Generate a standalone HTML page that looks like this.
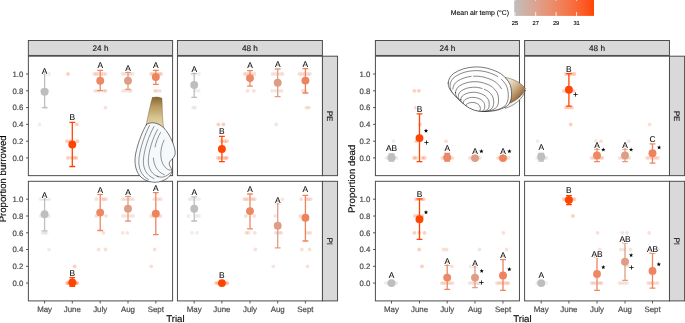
<!DOCTYPE html>
<html><head><meta charset="utf-8"><title>Figure</title>
<style>html,body{margin:0;padding:0;background:#fff;width:685px;height:323px;overflow:hidden;font-family:"Liberation Sans",sans-serif}</style>
</head><body>
<svg width="685" height="323" viewBox="0 0 685 323" style="display:block;position:absolute;left:0;top:0;will-change:transform;opacity:0.999" font-family="'Liberation Sans', sans-serif" text-rendering="geometricPrecision">
<defs>
<linearGradient id="lg" x1="0" x2="1" y1="0" y2="0"><stop offset="0%" stop-color="#bebebe"/><stop offset="5%" stop-color="#c5b9b5"/><stop offset="10%" stop-color="#cbb4ac"/><stop offset="15%" stop-color="#d0afa4"/><stop offset="20%" stop-color="#d5aa9b"/><stop offset="25%" stop-color="#daa592"/><stop offset="30%" stop-color="#dea08a"/><stop offset="35%" stop-color="#e29a81"/><stop offset="40%" stop-color="#e59579"/><stop offset="45%" stop-color="#e99070"/><stop offset="50%" stop-color="#ec8a67"/><stop offset="55%" stop-color="#ef845f"/><stop offset="60%" stop-color="#f17f56"/><stop offset="65%" stop-color="#f3794e"/><stop offset="70%" stop-color="#f67245"/><stop offset="75%" stop-color="#f86c3c"/><stop offset="80%" stop-color="#f96533"/><stop offset="85%" stop-color="#fb5e2a"/><stop offset="90%" stop-color="#fc561f"/><stop offset="95%" stop-color="#fe4e12"/><stop offset="100%" stop-color="#ff4500"/></linearGradient>
<linearGradient id="siph" x1="0" x2="0" y1="0" y2="1"><stop offset="0" stop-color="#86642f"/><stop offset="0.3" stop-color="#b89c62"/><stop offset="0.65" stop-color="#d9c592"/><stop offset="1" stop-color="#e8d9ae"/></linearGradient>
<linearGradient id="foot" x1="0.1" y1="0.1" x2="0.75" y2="0.95"><stop offset="0" stop-color="#f3eadb"/><stop offset="0.4" stop-color="#d2b894"/><stop offset="0.75" stop-color="#a67a4c"/><stop offset="1" stop-color="#6a4420"/></linearGradient>
</defs>
<rect width="685" height="323" fill="#fff"/>
<rect x="28.36" y="40.5" width="144.24" height="14.95" fill="#d9d9d9" stroke="#4a4a4a" stroke-width="0.98"/>
<text x="100.5" y="51.1" font-size="8.2" text-anchor="middle" fill="#1a1a1a" stroke="#1a1a1a" stroke-width="0.15">24 h</text>
<rect x="177.45" y="40.5" width="144.95" height="14.95" fill="#d9d9d9" stroke="#4a4a4a" stroke-width="0.98"/>
<text x="249.9" y="51.1" font-size="8.2" text-anchor="middle" fill="#1a1a1a" stroke="#1a1a1a" stroke-width="0.15">48 h</text>
<rect x="322.40" y="56.20" width="15.15" height="119.45" fill="#d9d9d9" stroke="#4a4a4a" stroke-width="0.98"/>
<text transform="translate(327.0 116.1) rotate(90)" font-size="8.0" text-anchor="middle" fill="#1a1a1a" stroke="#1a1a1a" stroke-width="0.15">PE</text>
<rect x="322.40" y="181.30" width="15.15" height="119.60" fill="#d9d9d9" stroke="#4a4a4a" stroke-width="0.98"/>
<text transform="translate(327.0 241.3) rotate(90)" font-size="8.0" text-anchor="middle" fill="#1a1a1a" stroke="#1a1a1a" stroke-width="0.15">PI</text>
<rect x="28.4" y="56.2" width="144.2" height="119.5" fill="#fff" stroke="none"/>
<circle cx="49.1" cy="74.0" r="1.9" fill="#bebebe" fill-opacity="0.26"/>
<circle cx="46.6" cy="74.0" r="1.9" fill="#bebebe" fill-opacity="0.26"/>
<circle cx="47.6" cy="90.8" r="1.9" fill="#bebebe" fill-opacity="0.26"/>
<circle cx="41.6" cy="90.8" r="1.9" fill="#bebebe" fill-opacity="0.26"/>
<circle cx="45.6" cy="107.6" r="1.9" fill="#bebebe" fill-opacity="0.26"/>
<circle cx="39.6" cy="124.4" r="1.9" fill="#bebebe" fill-opacity="0.26"/>
<circle cx="68.0" cy="74.0" r="1.9" fill="#ff4500" fill-opacity="0.26"/>
<circle cx="76.8" cy="124.4" r="1.9" fill="#ff4500" fill-opacity="0.26"/>
<circle cx="67.0" cy="141.2" r="1.9" fill="#ff4500" fill-opacity="0.26"/>
<circle cx="77.5" cy="141.2" r="1.9" fill="#ff4500" fill-opacity="0.26"/>
<circle cx="70.3" cy="141.2" r="1.9" fill="#ff4500" fill-opacity="0.26"/>
<circle cx="68.0" cy="157.9" r="1.9" fill="#ff4500" fill-opacity="0.26"/>
<circle cx="71.8" cy="157.9" r="1.9" fill="#ff4500" fill-opacity="0.26"/>
<circle cx="76.4" cy="157.9" r="1.9" fill="#ff4500" fill-opacity="0.26"/>
<circle cx="74.3" cy="157.9" r="1.9" fill="#ff4500" fill-opacity="0.26"/>
<circle cx="94.2" cy="74.0" r="1.9" fill="#ed8864" fill-opacity="0.26"/>
<circle cx="96.2" cy="74.0" r="1.9" fill="#ed8864" fill-opacity="0.26"/>
<circle cx="98.2" cy="74.0" r="1.9" fill="#ed8864" fill-opacity="0.26"/>
<circle cx="103.2" cy="74.0" r="1.9" fill="#ed8864" fill-opacity="0.26"/>
<circle cx="105.7" cy="74.0" r="1.9" fill="#ed8864" fill-opacity="0.26"/>
<circle cx="101.2" cy="74.0" r="1.9" fill="#ed8864" fill-opacity="0.26"/>
<circle cx="95.2" cy="90.8" r="1.9" fill="#ed8864" fill-opacity="0.26"/>
<circle cx="98.2" cy="90.8" r="1.9" fill="#ed8864" fill-opacity="0.26"/>
<circle cx="104.2" cy="90.8" r="1.9" fill="#ed8864" fill-opacity="0.26"/>
<circle cx="105.7" cy="90.8" r="1.9" fill="#ed8864" fill-opacity="0.26"/>
<circle cx="105.5" cy="107.6" r="1.9" fill="#ed8864" fill-opacity="0.26"/>
<circle cx="122.5" cy="74.0" r="1.9" fill="#e09d85" fill-opacity="0.26"/>
<circle cx="125.0" cy="74.0" r="1.9" fill="#e09d85" fill-opacity="0.26"/>
<circle cx="130.0" cy="74.0" r="1.9" fill="#e09d85" fill-opacity="0.26"/>
<circle cx="132.5" cy="74.0" r="1.9" fill="#e09d85" fill-opacity="0.26"/>
<circle cx="128.0" cy="74.0" r="1.9" fill="#e09d85" fill-opacity="0.26"/>
<circle cx="123.0" cy="90.8" r="1.9" fill="#e09d85" fill-opacity="0.26"/>
<circle cx="126.0" cy="90.8" r="1.9" fill="#e09d85" fill-opacity="0.26"/>
<circle cx="129.0" cy="90.8" r="1.9" fill="#e09d85" fill-opacity="0.26"/>
<circle cx="131.0" cy="90.8" r="1.9" fill="#e09d85" fill-opacity="0.26"/>
<circle cx="150.8" cy="74.0" r="1.9" fill="#ef835d" fill-opacity="0.26"/>
<circle cx="152.8" cy="74.0" r="1.9" fill="#ef835d" fill-opacity="0.26"/>
<circle cx="154.8" cy="74.0" r="1.9" fill="#ef835d" fill-opacity="0.26"/>
<circle cx="157.8" cy="74.0" r="1.9" fill="#ef835d" fill-opacity="0.26"/>
<circle cx="159.8" cy="74.0" r="1.9" fill="#ef835d" fill-opacity="0.26"/>
<circle cx="161.3" cy="74.0" r="1.9" fill="#ef835d" fill-opacity="0.26"/>
<circle cx="154.8" cy="90.8" r="1.9" fill="#ef835d" fill-opacity="0.26"/>
<circle cx="156.8" cy="90.8" r="1.9" fill="#ef835d" fill-opacity="0.26"/>
<circle cx="159.8" cy="90.8" r="1.9" fill="#ef835d" fill-opacity="0.26"/>
<path d="M44.6 74.0V107.6M41.7 74.0h5.8M41.7 107.6h5.8" stroke="#bebebe" stroke-width="1.3" fill="none"/>
<circle cx="44.6" cy="91.8" r="3.95" fill="#bebebe"/>
<path d="M72.3 122.3V166.5M69.4 122.3h5.8M69.4 166.5h5.8" stroke="#ff4500" stroke-width="1.3" fill="none"/>
<circle cx="72.3" cy="144.5" r="3.95" fill="#ff4500"/>
<path d="M100.2 70.3V90.7M97.3 70.3h5.8M97.3 90.7h5.8" stroke="#ed8864" stroke-width="1.3" fill="none"/>
<circle cx="100.2" cy="80.8" r="3.95" fill="#ed8864"/>
<path d="M128.0 72.4V89.4M125.1 72.4h5.8M125.1 89.4h5.8" stroke="#e09d85" stroke-width="1.3" fill="none"/>
<circle cx="128.0" cy="80.8" r="3.95" fill="#e09d85"/>
<path d="M155.8 70.3V84.4M152.9 70.3h5.8M152.9 84.4h5.8" stroke="#ef835d" stroke-width="1.3" fill="none"/>
<circle cx="155.8" cy="77.0" r="3.95" fill="#ef835d"/>
<text x="44.6" y="74.0" font-size="8.4" text-anchor="middle" fill="#fff" stroke="#fff" stroke-width="2.1" stroke-linejoin="round">A</text>
<text x="44.6" y="74.0" font-size="8.4" text-anchor="middle" fill="#000" stroke="#000" stroke-width="0.07">A</text>
<text x="72.3" y="120.2" font-size="8.4" text-anchor="middle" fill="#fff" stroke="#fff" stroke-width="2.1" stroke-linejoin="round">B</text>
<text x="72.3" y="120.2" font-size="8.4" text-anchor="middle" fill="#000" stroke="#000" stroke-width="0.07">B</text>
<text x="100.2" y="68.4" font-size="8.4" text-anchor="middle" fill="#fff" stroke="#fff" stroke-width="2.1" stroke-linejoin="round">A</text>
<text x="100.2" y="68.4" font-size="8.4" text-anchor="middle" fill="#000" stroke="#000" stroke-width="0.07">A</text>
<text x="128.0" y="71.1" font-size="8.4" text-anchor="middle" fill="#fff" stroke="#fff" stroke-width="2.1" stroke-linejoin="round">A</text>
<text x="128.0" y="71.1" font-size="8.4" text-anchor="middle" fill="#000" stroke="#000" stroke-width="0.07">A</text>
<text x="155.8" y="68.4" font-size="8.4" text-anchor="middle" fill="#fff" stroke="#fff" stroke-width="2.1" stroke-linejoin="round">A</text>
<text x="155.8" y="68.4" font-size="8.4" text-anchor="middle" fill="#000" stroke="#000" stroke-width="0.07">A</text>
<rect x="28.36" y="56.20" width="144.24" height="119.45" fill="none" stroke="#4a4a4a" stroke-width="0.98"/>
<rect x="28.4" y="181.3" width="144.2" height="119.6" fill="#fff" stroke="none"/>
<circle cx="40.6" cy="199.2" r="1.9" fill="#bebebe" fill-opacity="0.26"/>
<circle cx="43.6" cy="199.2" r="1.9" fill="#bebebe" fill-opacity="0.26"/>
<circle cx="46.6" cy="199.2" r="1.9" fill="#bebebe" fill-opacity="0.26"/>
<circle cx="49.1" cy="199.2" r="1.9" fill="#bebebe" fill-opacity="0.26"/>
<circle cx="40.6" cy="216.0" r="1.9" fill="#bebebe" fill-opacity="0.26"/>
<circle cx="48.9" cy="216.0" r="1.9" fill="#bebebe" fill-opacity="0.26"/>
<circle cx="42.6" cy="232.8" r="1.9" fill="#bebebe" fill-opacity="0.26"/>
<circle cx="44.6" cy="232.8" r="1.9" fill="#bebebe" fill-opacity="0.26"/>
<circle cx="46.6" cy="232.8" r="1.9" fill="#bebebe" fill-opacity="0.26"/>
<circle cx="49.0" cy="249.5" r="1.9" fill="#bebebe" fill-opacity="0.26"/>
<circle cx="74.7" cy="266.3" r="1.9" fill="#ff4500" fill-opacity="0.26"/>
<circle cx="67.0" cy="283.1" r="1.9" fill="#ff4500" fill-opacity="0.26"/>
<circle cx="69.3" cy="283.1" r="1.9" fill="#ff4500" fill-opacity="0.26"/>
<circle cx="71.3" cy="283.1" r="1.9" fill="#ff4500" fill-opacity="0.26"/>
<circle cx="73.3" cy="283.1" r="1.9" fill="#ff4500" fill-opacity="0.26"/>
<circle cx="75.3" cy="283.1" r="1.9" fill="#ff4500" fill-opacity="0.26"/>
<circle cx="77.5" cy="283.1" r="1.9" fill="#ff4500" fill-opacity="0.26"/>
<circle cx="72.3" cy="283.1" r="1.9" fill="#ff4500" fill-opacity="0.26"/>
<circle cx="68.3" cy="283.1" r="1.9" fill="#ff4500" fill-opacity="0.26"/>
<circle cx="76.3" cy="283.1" r="1.9" fill="#ff4500" fill-opacity="0.26"/>
<circle cx="96.4" cy="199.2" r="1.9" fill="#ed8864" fill-opacity="0.26"/>
<circle cx="102.2" cy="199.2" r="1.9" fill="#ed8864" fill-opacity="0.26"/>
<circle cx="104.2" cy="199.2" r="1.9" fill="#ed8864" fill-opacity="0.26"/>
<circle cx="106.0" cy="199.2" r="1.9" fill="#ed8864" fill-opacity="0.26"/>
<circle cx="96.4" cy="216.0" r="1.9" fill="#ed8864" fill-opacity="0.26"/>
<circle cx="106.0" cy="216.0" r="1.9" fill="#ed8864" fill-opacity="0.26"/>
<circle cx="103.4" cy="232.8" r="1.9" fill="#ed8864" fill-opacity="0.26"/>
<circle cx="98.5" cy="249.5" r="1.9" fill="#ed8864" fill-opacity="0.26"/>
<circle cx="105.5" cy="249.5" r="1.9" fill="#ed8864" fill-opacity="0.26"/>
<circle cx="122.7" cy="199.2" r="1.9" fill="#e09d85" fill-opacity="0.26"/>
<circle cx="125.0" cy="199.2" r="1.9" fill="#e09d85" fill-opacity="0.26"/>
<circle cx="128.0" cy="199.2" r="1.9" fill="#e09d85" fill-opacity="0.26"/>
<circle cx="130.5" cy="199.2" r="1.9" fill="#e09d85" fill-opacity="0.26"/>
<circle cx="133.0" cy="199.2" r="1.9" fill="#e09d85" fill-opacity="0.26"/>
<circle cx="123.0" cy="216.0" r="1.9" fill="#e09d85" fill-opacity="0.26"/>
<circle cx="126.0" cy="216.0" r="1.9" fill="#e09d85" fill-opacity="0.26"/>
<circle cx="130.0" cy="216.0" r="1.9" fill="#e09d85" fill-opacity="0.26"/>
<circle cx="133.0" cy="216.0" r="1.9" fill="#e09d85" fill-opacity="0.26"/>
<circle cx="122.7" cy="232.8" r="1.9" fill="#e09d85" fill-opacity="0.26"/>
<circle cx="127.4" cy="232.8" r="1.9" fill="#e09d85" fill-opacity="0.26"/>
<circle cx="154.3" cy="199.2" r="1.9" fill="#ef835d" fill-opacity="0.26"/>
<circle cx="157.8" cy="199.2" r="1.9" fill="#ef835d" fill-opacity="0.26"/>
<circle cx="160.6" cy="199.2" r="1.9" fill="#ef835d" fill-opacity="0.26"/>
<circle cx="151.2" cy="216.0" r="1.9" fill="#ef835d" fill-opacity="0.26"/>
<circle cx="153.8" cy="216.0" r="1.9" fill="#ef835d" fill-opacity="0.26"/>
<circle cx="157.8" cy="216.0" r="1.9" fill="#ef835d" fill-opacity="0.26"/>
<circle cx="160.6" cy="216.0" r="1.9" fill="#ef835d" fill-opacity="0.26"/>
<circle cx="154.7" cy="249.5" r="1.9" fill="#ef835d" fill-opacity="0.26"/>
<circle cx="151.2" cy="266.3" r="1.9" fill="#ef835d" fill-opacity="0.26"/>
<path d="M44.6 198.5V230.9M41.7 198.5h5.8M41.7 230.9h5.8" stroke="#bebebe" stroke-width="1.3" fill="none"/>
<circle cx="44.6" cy="214.3" r="3.95" fill="#bebebe"/>
<path d="M72.3 277.6V286.4M69.4 277.6h5.8M69.4 286.4h5.8" stroke="#ff4500" stroke-width="1.3" fill="none"/>
<circle cx="72.3" cy="282.5" r="3.95" fill="#ff4500"/>
<path d="M100.2 194.3V230.5M97.3 194.3h5.8M97.3 230.5h5.8" stroke="#ed8864" stroke-width="1.3" fill="none"/>
<circle cx="100.2" cy="212.6" r="3.95" fill="#ed8864"/>
<path d="M128.0 196.4V221.0M125.1 196.4h5.8M125.1 221.0h5.8" stroke="#e09d85" stroke-width="1.3" fill="none"/>
<circle cx="128.0" cy="208.8" r="3.95" fill="#e09d85"/>
<path d="M155.8 192.6V234.7M152.9 192.6h5.8M152.9 234.7h5.8" stroke="#ef835d" stroke-width="1.3" fill="none"/>
<circle cx="155.8" cy="213.6" r="3.95" fill="#ef835d"/>
<text x="44.6" y="197.8" font-size="8.4" text-anchor="middle" fill="#fff" stroke="#fff" stroke-width="2.1" stroke-linejoin="round">A</text>
<text x="44.6" y="197.8" font-size="8.4" text-anchor="middle" fill="#000" stroke="#000" stroke-width="0.07">A</text>
<text x="72.3" y="275.5" font-size="8.4" text-anchor="middle" fill="#fff" stroke="#fff" stroke-width="2.1" stroke-linejoin="round">B</text>
<text x="72.3" y="275.5" font-size="8.4" text-anchor="middle" fill="#000" stroke="#000" stroke-width="0.07">B</text>
<text x="100.2" y="192.5" font-size="8.4" text-anchor="middle" fill="#fff" stroke="#fff" stroke-width="2.1" stroke-linejoin="round">A</text>
<text x="100.2" y="192.5" font-size="8.4" text-anchor="middle" fill="#000" stroke="#000" stroke-width="0.07">A</text>
<text x="128.0" y="195.1" font-size="8.4" text-anchor="middle" fill="#fff" stroke="#fff" stroke-width="2.1" stroke-linejoin="round">A</text>
<text x="128.0" y="195.1" font-size="8.4" text-anchor="middle" fill="#000" stroke="#000" stroke-width="0.07">A</text>
<text x="155.8" y="190.9" font-size="8.4" text-anchor="middle" fill="#fff" stroke="#fff" stroke-width="2.1" stroke-linejoin="round">A</text>
<text x="155.8" y="190.9" font-size="8.4" text-anchor="middle" fill="#000" stroke="#000" stroke-width="0.07">A</text>
<rect x="28.36" y="181.30" width="144.24" height="119.60" fill="none" stroke="#4a4a4a" stroke-width="0.98"/>
<path d="M44.6 300.9v2.6" stroke="#4a4a4a" stroke-width="0.9"/>
<text x="44.6" y="311.95" font-size="7.9" text-anchor="middle" fill="#4d4d4d" stroke="#4d4d4d" stroke-width="0.2">May</text>
<path d="M72.3 300.9v2.6" stroke="#4a4a4a" stroke-width="0.9"/>
<text x="72.3" y="311.95" font-size="7.9" text-anchor="middle" fill="#4d4d4d" stroke="#4d4d4d" stroke-width="0.2">June</text>
<path d="M100.2 300.9v2.6" stroke="#4a4a4a" stroke-width="0.9"/>
<text x="100.2" y="311.95" font-size="7.9" text-anchor="middle" fill="#4d4d4d" stroke="#4d4d4d" stroke-width="0.2">July</text>
<path d="M128.0 300.9v2.6" stroke="#4a4a4a" stroke-width="0.9"/>
<text x="128.0" y="311.95" font-size="7.9" text-anchor="middle" fill="#4d4d4d" stroke="#4d4d4d" stroke-width="0.2">Aug</text>
<path d="M155.8 300.9v2.6" stroke="#4a4a4a" stroke-width="0.9"/>
<text x="155.8" y="311.95" font-size="7.9" text-anchor="middle" fill="#4d4d4d" stroke="#4d4d4d" stroke-width="0.2">Sept</text>
<rect x="177.4" y="56.2" width="144.9" height="119.5" fill="#fff" stroke="none"/>
<circle cx="199.0" cy="74.0" r="1.9" fill="#bebebe" fill-opacity="0.26"/>
<circle cx="195.2" cy="74.0" r="1.9" fill="#bebebe" fill-opacity="0.26"/>
<circle cx="192.2" cy="74.0" r="1.9" fill="#bebebe" fill-opacity="0.26"/>
<circle cx="195.2" cy="90.8" r="1.9" fill="#bebebe" fill-opacity="0.26"/>
<circle cx="198.7" cy="90.8" r="1.9" fill="#bebebe" fill-opacity="0.26"/>
<circle cx="193.2" cy="107.6" r="1.9" fill="#bebebe" fill-opacity="0.26"/>
<circle cx="195.2" cy="107.6" r="1.9" fill="#bebebe" fill-opacity="0.26"/>
<circle cx="218.4" cy="124.4" r="1.9" fill="#ff4500" fill-opacity="0.26"/>
<circle cx="223.4" cy="124.4" r="1.9" fill="#ff4500" fill-opacity="0.26"/>
<circle cx="221.4" cy="141.2" r="1.9" fill="#ff4500" fill-opacity="0.26"/>
<circle cx="224.4" cy="141.2" r="1.9" fill="#ff4500" fill-opacity="0.26"/>
<circle cx="226.9" cy="141.2" r="1.9" fill="#ff4500" fill-opacity="0.26"/>
<circle cx="217.9" cy="157.9" r="1.9" fill="#ff4500" fill-opacity="0.26"/>
<circle cx="219.9" cy="157.9" r="1.9" fill="#ff4500" fill-opacity="0.26"/>
<circle cx="222.9" cy="157.9" r="1.9" fill="#ff4500" fill-opacity="0.26"/>
<circle cx="225.4" cy="157.9" r="1.9" fill="#ff4500" fill-opacity="0.26"/>
<circle cx="226.9" cy="157.9" r="1.9" fill="#ff4500" fill-opacity="0.26"/>
<circle cx="244.5" cy="74.0" r="1.9" fill="#ed8864" fill-opacity="0.26"/>
<circle cx="246.5" cy="74.0" r="1.9" fill="#ed8864" fill-opacity="0.26"/>
<circle cx="249.0" cy="74.0" r="1.9" fill="#ed8864" fill-opacity="0.26"/>
<circle cx="252.0" cy="74.0" r="1.9" fill="#ed8864" fill-opacity="0.26"/>
<circle cx="254.5" cy="74.0" r="1.9" fill="#ed8864" fill-opacity="0.26"/>
<circle cx="247.5" cy="90.8" r="1.9" fill="#ed8864" fill-opacity="0.26"/>
<circle cx="253.8" cy="90.8" r="1.9" fill="#ed8864" fill-opacity="0.26"/>
<circle cx="272.7" cy="74.0" r="1.9" fill="#e09d85" fill-opacity="0.26"/>
<circle cx="275.2" cy="74.0" r="1.9" fill="#e09d85" fill-opacity="0.26"/>
<circle cx="277.7" cy="74.0" r="1.9" fill="#e09d85" fill-opacity="0.26"/>
<circle cx="280.7" cy="74.0" r="1.9" fill="#e09d85" fill-opacity="0.26"/>
<circle cx="282.7" cy="74.0" r="1.9" fill="#e09d85" fill-opacity="0.26"/>
<circle cx="272.2" cy="90.8" r="1.9" fill="#e09d85" fill-opacity="0.26"/>
<circle cx="275.7" cy="90.8" r="1.9" fill="#e09d85" fill-opacity="0.26"/>
<circle cx="278.7" cy="90.8" r="1.9" fill="#e09d85" fill-opacity="0.26"/>
<circle cx="281.7" cy="90.8" r="1.9" fill="#e09d85" fill-opacity="0.26"/>
<circle cx="276.2" cy="124.4" r="1.9" fill="#e09d85" fill-opacity="0.26"/>
<circle cx="299.4" cy="74.0" r="1.9" fill="#ef835d" fill-opacity="0.26"/>
<circle cx="301.9" cy="74.0" r="1.9" fill="#ef835d" fill-opacity="0.26"/>
<circle cx="304.4" cy="74.0" r="1.9" fill="#ef835d" fill-opacity="0.26"/>
<circle cx="307.4" cy="74.0" r="1.9" fill="#ef835d" fill-opacity="0.26"/>
<circle cx="309.9" cy="74.0" r="1.9" fill="#ef835d" fill-opacity="0.26"/>
<circle cx="302.9" cy="90.8" r="1.9" fill="#ef835d" fill-opacity="0.26"/>
<circle cx="305.4" cy="90.8" r="1.9" fill="#ef835d" fill-opacity="0.26"/>
<circle cx="306.4" cy="107.6" r="1.9" fill="#ef835d" fill-opacity="0.26"/>
<circle cx="308.9" cy="107.6" r="1.9" fill="#ef835d" fill-opacity="0.26"/>
<path d="M194.2 73.3V97.3M191.3 73.3h5.8M191.3 97.3h5.8" stroke="#bebebe" stroke-width="1.3" fill="none"/>
<circle cx="194.2" cy="85.0" r="3.95" fill="#bebebe"/>
<path d="M221.9 136.4V161.7M219.0 136.4h5.8M219.0 161.7h5.8" stroke="#ff4500" stroke-width="1.3" fill="none"/>
<circle cx="221.9" cy="149.0" r="3.95" fill="#ff4500"/>
<path d="M250.0 70.7V86.1M247.1 70.7h5.8M247.1 86.1h5.8" stroke="#ed8864" stroke-width="1.3" fill="none"/>
<circle cx="250.0" cy="78.1" r="3.95" fill="#ed8864"/>
<path d="M277.7 69.0V96.6M274.8 69.0h5.8M274.8 96.6h5.8" stroke="#e09d85" stroke-width="1.3" fill="none"/>
<circle cx="277.7" cy="82.7" r="3.95" fill="#e09d85"/>
<path d="M305.4 68.6V93.0M302.5 68.6h5.8M302.5 93.0h5.8" stroke="#ef835d" stroke-width="1.3" fill="none"/>
<circle cx="305.4" cy="80.6" r="3.95" fill="#ef835d"/>
<text x="194.2" y="71.5" font-size="8.4" text-anchor="middle" fill="#fff" stroke="#fff" stroke-width="2.1" stroke-linejoin="round">A</text>
<text x="194.2" y="71.5" font-size="8.4" text-anchor="middle" fill="#000" stroke="#000" stroke-width="0.07">A</text>
<text x="221.9" y="134.3" font-size="8.4" text-anchor="middle" fill="#fff" stroke="#fff" stroke-width="2.1" stroke-linejoin="round">B</text>
<text x="221.9" y="134.3" font-size="8.4" text-anchor="middle" fill="#000" stroke="#000" stroke-width="0.07">B</text>
<text x="250.0" y="68.0" font-size="8.4" text-anchor="middle" fill="#fff" stroke="#fff" stroke-width="2.1" stroke-linejoin="round">A</text>
<text x="250.0" y="68.0" font-size="8.4" text-anchor="middle" fill="#000" stroke="#000" stroke-width="0.07">A</text>
<text x="277.7" y="66.9" font-size="8.4" text-anchor="middle" fill="#fff" stroke="#fff" stroke-width="2.1" stroke-linejoin="round">A</text>
<text x="277.7" y="66.9" font-size="8.4" text-anchor="middle" fill="#000" stroke="#000" stroke-width="0.07">A</text>
<text x="305.4" y="66.9" font-size="8.4" text-anchor="middle" fill="#fff" stroke="#fff" stroke-width="2.1" stroke-linejoin="round">A</text>
<text x="305.4" y="66.9" font-size="8.4" text-anchor="middle" fill="#000" stroke="#000" stroke-width="0.07">A</text>
<rect x="177.45" y="56.20" width="144.95" height="119.45" fill="none" stroke="#4a4a4a" stroke-width="0.98"/>
<rect x="177.4" y="181.3" width="144.9" height="119.6" fill="#fff" stroke="none"/>
<circle cx="189.6" cy="199.2" r="1.9" fill="#bebebe" fill-opacity="0.26"/>
<circle cx="192.2" cy="199.2" r="1.9" fill="#bebebe" fill-opacity="0.26"/>
<circle cx="195.2" cy="199.2" r="1.9" fill="#bebebe" fill-opacity="0.26"/>
<circle cx="199.0" cy="199.2" r="1.9" fill="#bebebe" fill-opacity="0.26"/>
<circle cx="188.5" cy="216.0" r="1.9" fill="#bebebe" fill-opacity="0.26"/>
<circle cx="199.0" cy="216.0" r="1.9" fill="#bebebe" fill-opacity="0.26"/>
<circle cx="196.2" cy="216.0" r="1.9" fill="#bebebe" fill-opacity="0.26"/>
<circle cx="192.0" cy="232.8" r="1.9" fill="#bebebe" fill-opacity="0.26"/>
<circle cx="197.0" cy="232.8" r="1.9" fill="#bebebe" fill-opacity="0.26"/>
<circle cx="215.9" cy="283.1" r="1.9" fill="#ff4500" fill-opacity="0.26"/>
<circle cx="217.9" cy="283.1" r="1.9" fill="#ff4500" fill-opacity="0.26"/>
<circle cx="219.9" cy="283.1" r="1.9" fill="#ff4500" fill-opacity="0.26"/>
<circle cx="221.9" cy="283.1" r="1.9" fill="#ff4500" fill-opacity="0.26"/>
<circle cx="223.9" cy="283.1" r="1.9" fill="#ff4500" fill-opacity="0.26"/>
<circle cx="225.9" cy="283.1" r="1.9" fill="#ff4500" fill-opacity="0.26"/>
<circle cx="227.6" cy="283.1" r="1.9" fill="#ff4500" fill-opacity="0.26"/>
<circle cx="222.9" cy="283.1" r="1.9" fill="#ff4500" fill-opacity="0.26"/>
<circle cx="220.9" cy="283.1" r="1.9" fill="#ff4500" fill-opacity="0.26"/>
<circle cx="244.3" cy="199.2" r="1.9" fill="#ed8864" fill-opacity="0.26"/>
<circle cx="246.0" cy="199.2" r="1.9" fill="#ed8864" fill-opacity="0.26"/>
<circle cx="248.0" cy="199.2" r="1.9" fill="#ed8864" fill-opacity="0.26"/>
<circle cx="251.0" cy="199.2" r="1.9" fill="#ed8864" fill-opacity="0.26"/>
<circle cx="253.0" cy="199.2" r="1.9" fill="#ed8864" fill-opacity="0.26"/>
<circle cx="254.8" cy="199.2" r="1.9" fill="#ed8864" fill-opacity="0.26"/>
<circle cx="245.8" cy="216.0" r="1.9" fill="#ed8864" fill-opacity="0.26"/>
<circle cx="254.2" cy="216.0" r="1.9" fill="#ed8864" fill-opacity="0.26"/>
<circle cx="246.4" cy="232.8" r="1.9" fill="#ed8864" fill-opacity="0.26"/>
<circle cx="248.5" cy="232.8" r="1.9" fill="#ed8864" fill-opacity="0.26"/>
<circle cx="254.8" cy="232.8" r="1.9" fill="#ed8864" fill-opacity="0.26"/>
<circle cx="255.3" cy="249.5" r="1.9" fill="#ed8864" fill-opacity="0.26"/>
<circle cx="282.3" cy="199.2" r="1.9" fill="#e09d85" fill-opacity="0.26"/>
<circle cx="275.1" cy="216.0" r="1.9" fill="#e09d85" fill-opacity="0.26"/>
<circle cx="275.7" cy="232.8" r="1.9" fill="#e09d85" fill-opacity="0.26"/>
<circle cx="277.7" cy="232.8" r="1.9" fill="#e09d85" fill-opacity="0.26"/>
<circle cx="279.7" cy="232.8" r="1.9" fill="#e09d85" fill-opacity="0.26"/>
<circle cx="281.3" cy="232.8" r="1.9" fill="#e09d85" fill-opacity="0.26"/>
<circle cx="273.3" cy="266.3" r="1.9" fill="#e09d85" fill-opacity="0.26"/>
<circle cx="301.2" cy="199.2" r="1.9" fill="#ef835d" fill-opacity="0.26"/>
<circle cx="306.4" cy="199.2" r="1.9" fill="#ef835d" fill-opacity="0.26"/>
<circle cx="308.4" cy="199.2" r="1.9" fill="#ef835d" fill-opacity="0.26"/>
<circle cx="310.7" cy="199.2" r="1.9" fill="#ef835d" fill-opacity="0.26"/>
<circle cx="300.1" cy="216.0" r="1.9" fill="#ef835d" fill-opacity="0.26"/>
<circle cx="307.5" cy="232.8" r="1.9" fill="#ef835d" fill-opacity="0.26"/>
<circle cx="310.2" cy="232.8" r="1.9" fill="#ef835d" fill-opacity="0.26"/>
<circle cx="301.8" cy="249.5" r="1.9" fill="#ef835d" fill-opacity="0.26"/>
<circle cx="309.6" cy="249.5" r="1.9" fill="#ef835d" fill-opacity="0.26"/>
<circle cx="307.5" cy="266.3" r="1.9" fill="#ef835d" fill-opacity="0.26"/>
<path d="M194.2 196.8V221.0M191.3 196.8h5.8M191.3 221.0h5.8" stroke="#bebebe" stroke-width="1.3" fill="none"/>
<circle cx="194.2" cy="208.8" r="3.95" fill="#bebebe"/>
<circle cx="221.9" cy="283.1" r="3.95" fill="#ff4500"/>
<path d="M250.0 194.0V228.8M247.1 194.0h5.8M247.1 228.8h5.8" stroke="#ed8864" stroke-width="1.3" fill="none"/>
<circle cx="250.0" cy="211.1" r="3.95" fill="#ed8864"/>
<path d="M277.7 203.7V247.8M274.8 203.7h5.8M274.8 247.8h5.8" stroke="#e09d85" stroke-width="1.3" fill="none"/>
<circle cx="277.7" cy="225.8" r="3.95" fill="#e09d85"/>
<path d="M305.4 195.3V241.0M302.5 195.3h5.8M302.5 241.0h5.8" stroke="#ef835d" stroke-width="1.3" fill="none"/>
<circle cx="305.4" cy="217.8" r="3.95" fill="#ef835d"/>
<text x="194.2" y="195.1" font-size="8.4" text-anchor="middle" fill="#fff" stroke="#fff" stroke-width="2.1" stroke-linejoin="round">A</text>
<text x="194.2" y="195.1" font-size="8.4" text-anchor="middle" fill="#000" stroke="#000" stroke-width="0.07">A</text>
<text x="221.9" y="277.6" font-size="8.4" text-anchor="middle" fill="#fff" stroke="#fff" stroke-width="2.1" stroke-linejoin="round">B</text>
<text x="221.9" y="277.6" font-size="8.4" text-anchor="middle" fill="#000" stroke="#000" stroke-width="0.07">B</text>
<text x="250.0" y="192.3" font-size="8.4" text-anchor="middle" fill="#fff" stroke="#fff" stroke-width="2.1" stroke-linejoin="round">A</text>
<text x="250.0" y="192.3" font-size="8.4" text-anchor="middle" fill="#000" stroke="#000" stroke-width="0.07">A</text>
<text x="277.7" y="202.9" font-size="8.4" text-anchor="middle" fill="#fff" stroke="#fff" stroke-width="2.1" stroke-linejoin="round">A</text>
<text x="277.7" y="202.9" font-size="8.4" text-anchor="middle" fill="#000" stroke="#000" stroke-width="0.07">A</text>
<text x="305.4" y="192.3" font-size="8.4" text-anchor="middle" fill="#fff" stroke="#fff" stroke-width="2.1" stroke-linejoin="round">A</text>
<text x="305.4" y="192.3" font-size="8.4" text-anchor="middle" fill="#000" stroke="#000" stroke-width="0.07">A</text>
<rect x="177.45" y="181.30" width="144.95" height="119.60" fill="none" stroke="#4a4a4a" stroke-width="0.98"/>
<path d="M194.2 300.9v2.6" stroke="#4a4a4a" stroke-width="0.9"/>
<text x="194.2" y="311.95" font-size="7.9" text-anchor="middle" fill="#4d4d4d" stroke="#4d4d4d" stroke-width="0.2">May</text>
<path d="M221.9 300.9v2.6" stroke="#4a4a4a" stroke-width="0.9"/>
<text x="221.9" y="311.95" font-size="7.9" text-anchor="middle" fill="#4d4d4d" stroke="#4d4d4d" stroke-width="0.2">June</text>
<path d="M250.0 300.9v2.6" stroke="#4a4a4a" stroke-width="0.9"/>
<text x="250.0" y="311.95" font-size="7.9" text-anchor="middle" fill="#4d4d4d" stroke="#4d4d4d" stroke-width="0.2">July</text>
<path d="M277.7 300.9v2.6" stroke="#4a4a4a" stroke-width="0.9"/>
<text x="277.7" y="311.95" font-size="7.9" text-anchor="middle" fill="#4d4d4d" stroke="#4d4d4d" stroke-width="0.2">Aug</text>
<path d="M305.4 300.9v2.6" stroke="#4a4a4a" stroke-width="0.9"/>
<text x="305.4" y="311.95" font-size="7.9" text-anchor="middle" fill="#4d4d4d" stroke="#4d4d4d" stroke-width="0.2">Sept</text>
<path d="M28.4 157.9h-2.4" stroke="#4a4a4a" stroke-width="0.9"/>
<text x="23.3" y="160.8" font-size="7.8" text-anchor="end" fill="#4d4d4d" stroke="#4d4d4d" stroke-width="0.2">0.0</text>
<path d="M28.4 141.2h-2.4" stroke="#4a4a4a" stroke-width="0.9"/>
<text x="23.3" y="144.0" font-size="7.8" text-anchor="end" fill="#4d4d4d" stroke="#4d4d4d" stroke-width="0.2">0.2</text>
<path d="M28.4 124.4h-2.4" stroke="#4a4a4a" stroke-width="0.9"/>
<text x="23.3" y="127.2" font-size="7.8" text-anchor="end" fill="#4d4d4d" stroke="#4d4d4d" stroke-width="0.2">0.4</text>
<path d="M28.4 107.6h-2.4" stroke="#4a4a4a" stroke-width="0.9"/>
<text x="23.3" y="110.4" font-size="7.8" text-anchor="end" fill="#4d4d4d" stroke="#4d4d4d" stroke-width="0.2">0.6</text>
<path d="M28.4 90.8h-2.4" stroke="#4a4a4a" stroke-width="0.9"/>
<text x="23.3" y="93.7" font-size="7.8" text-anchor="end" fill="#4d4d4d" stroke="#4d4d4d" stroke-width="0.2">0.8</text>
<path d="M28.4 74.0h-2.4" stroke="#4a4a4a" stroke-width="0.9"/>
<text x="23.3" y="76.9" font-size="7.8" text-anchor="end" fill="#4d4d4d" stroke="#4d4d4d" stroke-width="0.2">1.0</text>
<path d="M28.4 283.1h-2.4" stroke="#4a4a4a" stroke-width="0.9"/>
<text x="23.3" y="286.0" font-size="7.8" text-anchor="end" fill="#4d4d4d" stroke="#4d4d4d" stroke-width="0.2">0.0</text>
<path d="M28.4 266.3h-2.4" stroke="#4a4a4a" stroke-width="0.9"/>
<text x="23.3" y="269.2" font-size="7.8" text-anchor="end" fill="#4d4d4d" stroke="#4d4d4d" stroke-width="0.2">0.2</text>
<path d="M28.4 249.5h-2.4" stroke="#4a4a4a" stroke-width="0.9"/>
<text x="23.3" y="252.4" font-size="7.8" text-anchor="end" fill="#4d4d4d" stroke="#4d4d4d" stroke-width="0.2">0.4</text>
<path d="M28.4 232.8h-2.4" stroke="#4a4a4a" stroke-width="0.9"/>
<text x="23.3" y="235.6" font-size="7.8" text-anchor="end" fill="#4d4d4d" stroke="#4d4d4d" stroke-width="0.2">0.6</text>
<path d="M28.4 216.0h-2.4" stroke="#4a4a4a" stroke-width="0.9"/>
<text x="23.3" y="218.8" font-size="7.8" text-anchor="end" fill="#4d4d4d" stroke="#4d4d4d" stroke-width="0.2">0.8</text>
<path d="M28.4 199.2h-2.4" stroke="#4a4a4a" stroke-width="0.9"/>
<text x="23.3" y="202.1" font-size="7.8" text-anchor="end" fill="#4d4d4d" stroke="#4d4d4d" stroke-width="0.2">1.0</text>
<text transform="translate(6.4 178.9) rotate(-90)" font-size="9.6" text-anchor="middle" fill="#000" stroke="#000" stroke-width="0.12">Proportion burrowed</text>
<text x="175.4" y="322.3" font-size="9.7" text-anchor="middle" fill="#000" stroke="#000" stroke-width="0.12">Trial</text>
<rect x="375.40" y="40.5" width="144.05" height="14.95" fill="#d9d9d9" stroke="#4a4a4a" stroke-width="0.98"/>
<text x="447.4" y="51.1" font-size="8.2" text-anchor="middle" fill="#1a1a1a" stroke="#1a1a1a" stroke-width="0.15">24 h</text>
<rect x="524.60" y="40.5" width="144.85" height="14.95" fill="#d9d9d9" stroke="#4a4a4a" stroke-width="0.98"/>
<text x="597.0" y="51.1" font-size="8.2" text-anchor="middle" fill="#1a1a1a" stroke="#1a1a1a" stroke-width="0.15">48 h</text>
<rect x="669.45" y="56.20" width="15.15" height="119.45" fill="#d9d9d9" stroke="#4a4a4a" stroke-width="0.98"/>
<text transform="translate(674.1 116.1) rotate(90)" font-size="8.0" text-anchor="middle" fill="#1a1a1a" stroke="#1a1a1a" stroke-width="0.15">PE</text>
<rect x="669.45" y="181.30" width="15.15" height="119.60" fill="#d9d9d9" stroke="#4a4a4a" stroke-width="0.98"/>
<text transform="translate(674.1 241.3) rotate(90)" font-size="8.0" text-anchor="middle" fill="#1a1a1a" stroke="#1a1a1a" stroke-width="0.15">PI</text>
<rect x="375.4" y="56.2" width="144.1" height="119.5" fill="#fff" stroke="none"/>
<circle cx="393.5" cy="141.2" r="1.9" fill="#bebebe" fill-opacity="0.26"/>
<circle cx="386.5" cy="157.9" r="1.9" fill="#bebebe" fill-opacity="0.26"/>
<circle cx="388.5" cy="157.9" r="1.9" fill="#bebebe" fill-opacity="0.26"/>
<circle cx="390.5" cy="157.9" r="1.9" fill="#bebebe" fill-opacity="0.26"/>
<circle cx="392.5" cy="157.9" r="1.9" fill="#bebebe" fill-opacity="0.26"/>
<circle cx="394.5" cy="157.9" r="1.9" fill="#bebebe" fill-opacity="0.26"/>
<circle cx="396.5" cy="157.9" r="1.9" fill="#bebebe" fill-opacity="0.26"/>
<circle cx="391.5" cy="157.9" r="1.9" fill="#bebebe" fill-opacity="0.26"/>
<circle cx="393.5" cy="157.9" r="1.9" fill="#bebebe" fill-opacity="0.26"/>
<circle cx="414.4" cy="90.8" r="1.9" fill="#ff4500" fill-opacity="0.26"/>
<circle cx="418.8" cy="90.8" r="1.9" fill="#ff4500" fill-opacity="0.26"/>
<circle cx="416.0" cy="107.6" r="1.9" fill="#ff4500" fill-opacity="0.26"/>
<circle cx="420.0" cy="124.4" r="1.9" fill="#ff4500" fill-opacity="0.26"/>
<circle cx="416.3" cy="141.2" r="1.9" fill="#ff4500" fill-opacity="0.26"/>
<circle cx="414.0" cy="157.9" r="1.9" fill="#ff4500" fill-opacity="0.26"/>
<circle cx="416.0" cy="157.9" r="1.9" fill="#ff4500" fill-opacity="0.26"/>
<circle cx="422.5" cy="157.9" r="1.9" fill="#ff4500" fill-opacity="0.26"/>
<circle cx="424.7" cy="157.9" r="1.9" fill="#ff4500" fill-opacity="0.26"/>
<circle cx="446.0" cy="141.2" r="1.9" fill="#ed8864" fill-opacity="0.26"/>
<circle cx="442.2" cy="157.9" r="1.9" fill="#ed8864" fill-opacity="0.26"/>
<circle cx="444.2" cy="157.9" r="1.9" fill="#ed8864" fill-opacity="0.26"/>
<circle cx="446.2" cy="157.9" r="1.9" fill="#ed8864" fill-opacity="0.26"/>
<circle cx="448.2" cy="157.9" r="1.9" fill="#ed8864" fill-opacity="0.26"/>
<circle cx="450.2" cy="157.9" r="1.9" fill="#ed8864" fill-opacity="0.26"/>
<circle cx="452.7" cy="157.9" r="1.9" fill="#ed8864" fill-opacity="0.26"/>
<circle cx="447.2" cy="157.9" r="1.9" fill="#ed8864" fill-opacity="0.26"/>
<circle cx="469.5" cy="157.9" r="1.9" fill="#e09d85" fill-opacity="0.26"/>
<circle cx="472.0" cy="157.9" r="1.9" fill="#e09d85" fill-opacity="0.26"/>
<circle cx="474.0" cy="157.9" r="1.9" fill="#e09d85" fill-opacity="0.26"/>
<circle cx="476.0" cy="157.9" r="1.9" fill="#e09d85" fill-opacity="0.26"/>
<circle cx="478.0" cy="157.9" r="1.9" fill="#e09d85" fill-opacity="0.26"/>
<circle cx="480.0" cy="157.9" r="1.9" fill="#e09d85" fill-opacity="0.26"/>
<circle cx="475.0" cy="157.9" r="1.9" fill="#e09d85" fill-opacity="0.26"/>
<circle cx="498.0" cy="157.9" r="1.9" fill="#ef835d" fill-opacity="0.26"/>
<circle cx="500.0" cy="157.9" r="1.9" fill="#ef835d" fill-opacity="0.26"/>
<circle cx="502.0" cy="157.9" r="1.9" fill="#ef835d" fill-opacity="0.26"/>
<circle cx="504.0" cy="157.9" r="1.9" fill="#ef835d" fill-opacity="0.26"/>
<circle cx="506.0" cy="157.9" r="1.9" fill="#ef835d" fill-opacity="0.26"/>
<circle cx="508.5" cy="157.9" r="1.9" fill="#ef835d" fill-opacity="0.26"/>
<circle cx="503.0" cy="157.9" r="1.9" fill="#ef835d" fill-opacity="0.26"/>
<path d="M391.5 153.9V161.0M388.6 153.9h5.8M388.6 161.0h5.8" stroke="#bebebe" stroke-width="1.3" fill="none"/>
<circle cx="391.5" cy="157.5" r="3.95" fill="#bebebe"/>
<path d="M419.5 113.9V161.7M416.6 113.9h5.8M416.6 161.7h5.8" stroke="#ff4500" stroke-width="1.3" fill="none"/>
<circle cx="419.5" cy="138.1" r="3.95" fill="#ff4500"/>
<path d="M447.2 153.3V161.0M444.3 153.3h5.8M444.3 161.0h5.8" stroke="#ed8864" stroke-width="1.3" fill="none"/>
<circle cx="447.2" cy="157.5" r="3.95" fill="#ed8864"/>
<path d="M475.0 157.0V159.2M472.1 157.0h5.8M472.1 159.2h5.8" stroke="#e09d85" stroke-width="1.3" fill="none"/>
<circle cx="475.0" cy="158.1" r="3.95" fill="#e09d85"/>
<path d="M503.0 157.0V159.2M500.1 157.0h5.8M500.1 159.2h5.8" stroke="#ef835d" stroke-width="1.3" fill="none"/>
<circle cx="503.0" cy="158.1" r="3.95" fill="#ef835d"/>
<text x="391.5" y="150.5" font-size="8.4" text-anchor="middle" fill="#fff" stroke="#fff" stroke-width="2.1" stroke-linejoin="round">AB</text>
<text x="391.5" y="150.5" font-size="8.4" text-anchor="middle" fill="#000" stroke="#000" stroke-width="0.07">AB</text>
<text x="419.5" y="111.8" font-size="8.4" text-anchor="middle" fill="#fff" stroke="#fff" stroke-width="2.1" stroke-linejoin="round">B</text>
<text x="419.5" y="111.8" font-size="8.4" text-anchor="middle" fill="#000" stroke="#000" stroke-width="0.07">B</text>
<path d="M426.00 128.60L426.56 130.08L428.14 130.15L426.90 131.14L427.32 132.67L426.00 131.80L424.68 132.67L425.10 131.14L423.86 130.15L425.44 130.08Z" fill="#000"/>
<path d="M424.35 142.50h4.3M426.50 140.35v4.3" stroke="#111" stroke-width="0.8" fill="none"/>
<text x="447.2" y="150.5" font-size="8.4" text-anchor="middle" fill="#fff" stroke="#fff" stroke-width="2.1" stroke-linejoin="round">A</text>
<text x="447.2" y="150.5" font-size="8.4" text-anchor="middle" fill="#000" stroke="#000" stroke-width="0.07">A</text>
<text x="475.0" y="153.7" font-size="8.4" text-anchor="middle" fill="#fff" stroke="#fff" stroke-width="2.1" stroke-linejoin="round">A</text>
<text x="475.0" y="153.7" font-size="8.4" text-anchor="middle" fill="#000" stroke="#000" stroke-width="0.07">A</text>
<path d="M481.40 149.10L481.96 150.58L483.54 150.65L482.30 151.64L482.72 153.17L481.40 152.30L480.08 153.17L480.50 151.64L479.26 150.65L480.84 150.58Z" fill="#000"/>
<text x="503.0" y="153.7" font-size="8.4" text-anchor="middle" fill="#fff" stroke="#fff" stroke-width="2.1" stroke-linejoin="round">A</text>
<text x="503.0" y="153.7" font-size="8.4" text-anchor="middle" fill="#000" stroke="#000" stroke-width="0.07">A</text>
<path d="M509.40 149.10L509.96 150.58L511.54 150.65L510.30 151.64L510.72 153.17L509.40 152.30L508.08 153.17L508.50 151.64L507.26 150.65L508.84 150.58Z" fill="#000"/>
<rect x="375.40" y="56.20" width="144.05" height="119.45" fill="none" stroke="#4a4a4a" stroke-width="0.98"/>
<rect x="375.4" y="181.3" width="144.1" height="119.6" fill="#fff" stroke="none"/>
<circle cx="386.0" cy="283.1" r="1.9" fill="#bebebe" fill-opacity="0.26"/>
<circle cx="388.5" cy="283.1" r="1.9" fill="#bebebe" fill-opacity="0.26"/>
<circle cx="390.5" cy="283.1" r="1.9" fill="#bebebe" fill-opacity="0.26"/>
<circle cx="392.5" cy="283.1" r="1.9" fill="#bebebe" fill-opacity="0.26"/>
<circle cx="394.5" cy="283.1" r="1.9" fill="#bebebe" fill-opacity="0.26"/>
<circle cx="396.5" cy="283.1" r="1.9" fill="#bebebe" fill-opacity="0.26"/>
<circle cx="391.5" cy="283.1" r="1.9" fill="#bebebe" fill-opacity="0.26"/>
<circle cx="393.5" cy="283.1" r="1.9" fill="#bebebe" fill-opacity="0.26"/>
<circle cx="389.5" cy="283.1" r="1.9" fill="#bebebe" fill-opacity="0.26"/>
<circle cx="416.0" cy="199.2" r="1.9" fill="#ff4500" fill-opacity="0.26"/>
<circle cx="418.5" cy="199.2" r="1.9" fill="#ff4500" fill-opacity="0.26"/>
<circle cx="421.5" cy="199.2" r="1.9" fill="#ff4500" fill-opacity="0.26"/>
<circle cx="423.5" cy="199.2" r="1.9" fill="#ff4500" fill-opacity="0.26"/>
<circle cx="415.0" cy="216.0" r="1.9" fill="#ff4500" fill-opacity="0.26"/>
<circle cx="418.0" cy="216.0" r="1.9" fill="#ff4500" fill-opacity="0.26"/>
<circle cx="422.3" cy="216.0" r="1.9" fill="#ff4500" fill-opacity="0.26"/>
<circle cx="414.4" cy="232.8" r="1.9" fill="#ff4500" fill-opacity="0.26"/>
<circle cx="419.2" cy="232.8" r="1.9" fill="#ff4500" fill-opacity="0.26"/>
<circle cx="424.5" cy="232.8" r="1.9" fill="#ff4500" fill-opacity="0.26"/>
<circle cx="419.2" cy="249.5" r="1.9" fill="#ff4500" fill-opacity="0.26"/>
<circle cx="422.0" cy="266.3" r="1.9" fill="#ff4500" fill-opacity="0.26"/>
<circle cx="443.4" cy="249.5" r="1.9" fill="#ed8864" fill-opacity="0.26"/>
<circle cx="446.6" cy="249.5" r="1.9" fill="#ed8864" fill-opacity="0.26"/>
<circle cx="451.8" cy="266.3" r="1.9" fill="#ed8864" fill-opacity="0.26"/>
<circle cx="441.7" cy="283.1" r="1.9" fill="#ed8864" fill-opacity="0.26"/>
<circle cx="443.7" cy="283.1" r="1.9" fill="#ed8864" fill-opacity="0.26"/>
<circle cx="445.7" cy="283.1" r="1.9" fill="#ed8864" fill-opacity="0.26"/>
<circle cx="448.2" cy="283.1" r="1.9" fill="#ed8864" fill-opacity="0.26"/>
<circle cx="450.2" cy="283.1" r="1.9" fill="#ed8864" fill-opacity="0.26"/>
<circle cx="452.7" cy="283.1" r="1.9" fill="#ed8864" fill-opacity="0.26"/>
<circle cx="479.6" cy="249.5" r="1.9" fill="#e09d85" fill-opacity="0.26"/>
<circle cx="470.8" cy="266.3" r="1.9" fill="#e09d85" fill-opacity="0.26"/>
<circle cx="474.0" cy="266.3" r="1.9" fill="#e09d85" fill-opacity="0.26"/>
<circle cx="469.5" cy="283.1" r="1.9" fill="#e09d85" fill-opacity="0.26"/>
<circle cx="472.0" cy="283.1" r="1.9" fill="#e09d85" fill-opacity="0.26"/>
<circle cx="474.0" cy="283.1" r="1.9" fill="#e09d85" fill-opacity="0.26"/>
<circle cx="476.5" cy="283.1" r="1.9" fill="#e09d85" fill-opacity="0.26"/>
<circle cx="478.5" cy="283.1" r="1.9" fill="#e09d85" fill-opacity="0.26"/>
<circle cx="480.5" cy="283.1" r="1.9" fill="#e09d85" fill-opacity="0.26"/>
<circle cx="503.4" cy="232.8" r="1.9" fill="#ef835d" fill-opacity="0.26"/>
<circle cx="506.6" cy="249.5" r="1.9" fill="#ef835d" fill-opacity="0.26"/>
<circle cx="497.0" cy="283.1" r="1.9" fill="#ef835d" fill-opacity="0.26"/>
<circle cx="499.0" cy="283.1" r="1.9" fill="#ef835d" fill-opacity="0.26"/>
<circle cx="501.0" cy="283.1" r="1.9" fill="#ef835d" fill-opacity="0.26"/>
<circle cx="503.0" cy="283.1" r="1.9" fill="#ef835d" fill-opacity="0.26"/>
<circle cx="505.0" cy="283.1" r="1.9" fill="#ef835d" fill-opacity="0.26"/>
<circle cx="507.0" cy="283.1" r="1.9" fill="#ef835d" fill-opacity="0.26"/>
<circle cx="508.5" cy="283.1" r="1.9" fill="#ef835d" fill-opacity="0.26"/>
<circle cx="391.5" cy="283.1" r="3.95" fill="#bebebe"/>
<path d="M419.5 198.9V239.3M416.6 198.9h5.8M416.6 239.3h5.8" stroke="#ff4500" stroke-width="1.3" fill="none"/>
<circle cx="419.5" cy="219.3" r="3.95" fill="#ff4500"/>
<path d="M447.2 265.2V289.4M444.3 265.2h5.8M444.3 289.4h5.8" stroke="#ed8864" stroke-width="1.3" fill="none"/>
<circle cx="447.2" cy="277.6" r="3.95" fill="#ed8864"/>
<path d="M475.0 266.7V287.7M472.1 266.7h5.8M472.1 287.7h5.8" stroke="#e09d85" stroke-width="1.3" fill="none"/>
<circle cx="475.0" cy="277.6" r="3.95" fill="#e09d85"/>
<path d="M503.0 259.7V290.3M500.1 259.7h5.8M500.1 290.3h5.8" stroke="#ef835d" stroke-width="1.3" fill="none"/>
<circle cx="503.0" cy="275.5" r="3.95" fill="#ef835d"/>
<text x="391.5" y="278.0" font-size="8.4" text-anchor="middle" fill="#fff" stroke="#fff" stroke-width="2.1" stroke-linejoin="round">A</text>
<text x="391.5" y="278.0" font-size="8.4" text-anchor="middle" fill="#000" stroke="#000" stroke-width="0.07">A</text>
<text x="419.5" y="196.5" font-size="8.4" text-anchor="middle" fill="#fff" stroke="#fff" stroke-width="2.1" stroke-linejoin="round">B</text>
<text x="419.5" y="196.5" font-size="8.4" text-anchor="middle" fill="#000" stroke="#000" stroke-width="0.07">B</text>
<path d="M426.00 210.10L426.56 211.58L428.14 211.65L426.90 212.64L427.32 214.17L426.00 213.30L424.68 214.17L425.10 212.64L423.86 211.65L425.44 211.58Z" fill="#000"/>
<text x="447.2" y="263.9" font-size="8.4" text-anchor="middle" fill="#fff" stroke="#fff" stroke-width="2.1" stroke-linejoin="round">A</text>
<text x="447.2" y="263.9" font-size="8.4" text-anchor="middle" fill="#000" stroke="#000" stroke-width="0.07">A</text>
<text x="475.0" y="265.6" font-size="8.4" text-anchor="middle" fill="#fff" stroke="#fff" stroke-width="2.1" stroke-linejoin="round">A</text>
<text x="475.0" y="265.6" font-size="8.4" text-anchor="middle" fill="#000" stroke="#000" stroke-width="0.07">A</text>
<path d="M481.70 268.80L482.26 270.28L483.84 270.35L482.60 271.34L483.02 272.87L481.70 272.00L480.38 272.87L480.80 271.34L479.56 270.35L481.14 270.28Z" fill="#000"/>
<path d="M479.35 282.50h4.3M481.50 280.35v4.3" stroke="#111" stroke-width="0.8" fill="none"/>
<text x="503.0" y="258.0" font-size="8.4" text-anchor="middle" fill="#fff" stroke="#fff" stroke-width="2.1" stroke-linejoin="round">A</text>
<text x="503.0" y="258.0" font-size="8.4" text-anchor="middle" fill="#000" stroke="#000" stroke-width="0.07">A</text>
<path d="M509.30 267.10L509.86 268.58L511.44 268.65L510.20 269.64L510.62 271.17L509.30 270.30L507.98 271.17L508.40 269.64L507.16 268.65L508.74 268.58Z" fill="#000"/>
<rect x="375.40" y="181.30" width="144.05" height="119.60" fill="none" stroke="#4a4a4a" stroke-width="0.98"/>
<path d="M391.5 300.9v2.6" stroke="#4a4a4a" stroke-width="0.9"/>
<text x="391.5" y="311.95" font-size="7.9" text-anchor="middle" fill="#4d4d4d" stroke="#4d4d4d" stroke-width="0.2">May</text>
<path d="M419.5 300.9v2.6" stroke="#4a4a4a" stroke-width="0.9"/>
<text x="419.5" y="311.95" font-size="7.9" text-anchor="middle" fill="#4d4d4d" stroke="#4d4d4d" stroke-width="0.2">June</text>
<path d="M447.2 300.9v2.6" stroke="#4a4a4a" stroke-width="0.9"/>
<text x="447.2" y="311.95" font-size="7.9" text-anchor="middle" fill="#4d4d4d" stroke="#4d4d4d" stroke-width="0.2">July</text>
<path d="M475.0 300.9v2.6" stroke="#4a4a4a" stroke-width="0.9"/>
<text x="475.0" y="311.95" font-size="7.9" text-anchor="middle" fill="#4d4d4d" stroke="#4d4d4d" stroke-width="0.2">Aug</text>
<path d="M503.0 300.9v2.6" stroke="#4a4a4a" stroke-width="0.9"/>
<text x="503.0" y="311.95" font-size="7.9" text-anchor="middle" fill="#4d4d4d" stroke="#4d4d4d" stroke-width="0.2">Sept</text>
<rect x="524.6" y="56.2" width="144.8" height="119.5" fill="#fff" stroke="none"/>
<circle cx="537.6" cy="141.2" r="1.9" fill="#bebebe" fill-opacity="0.26"/>
<circle cx="537.2" cy="157.9" r="1.9" fill="#bebebe" fill-opacity="0.26"/>
<circle cx="539.2" cy="157.9" r="1.9" fill="#bebebe" fill-opacity="0.26"/>
<circle cx="541.2" cy="157.9" r="1.9" fill="#bebebe" fill-opacity="0.26"/>
<circle cx="543.2" cy="157.9" r="1.9" fill="#bebebe" fill-opacity="0.26"/>
<circle cx="545.2" cy="157.9" r="1.9" fill="#bebebe" fill-opacity="0.26"/>
<circle cx="546.7" cy="157.9" r="1.9" fill="#bebebe" fill-opacity="0.26"/>
<circle cx="542.2" cy="157.9" r="1.9" fill="#bebebe" fill-opacity="0.26"/>
<circle cx="565.9" cy="74.0" r="1.9" fill="#ff4500" fill-opacity="0.26"/>
<circle cx="568.9" cy="74.0" r="1.9" fill="#ff4500" fill-opacity="0.26"/>
<circle cx="571.9" cy="74.0" r="1.9" fill="#ff4500" fill-opacity="0.26"/>
<circle cx="574.4" cy="74.0" r="1.9" fill="#ff4500" fill-opacity="0.26"/>
<circle cx="563.9" cy="90.8" r="1.9" fill="#ff4500" fill-opacity="0.26"/>
<circle cx="566.9" cy="90.8" r="1.9" fill="#ff4500" fill-opacity="0.26"/>
<circle cx="573.5" cy="90.8" r="1.9" fill="#ff4500" fill-opacity="0.26"/>
<circle cx="565.9" cy="107.6" r="1.9" fill="#ff4500" fill-opacity="0.26"/>
<circle cx="568.9" cy="107.6" r="1.9" fill="#ff4500" fill-opacity="0.26"/>
<circle cx="571.9" cy="107.6" r="1.9" fill="#ff4500" fill-opacity="0.26"/>
<circle cx="570.7" cy="124.4" r="1.9" fill="#ff4500" fill-opacity="0.26"/>
<circle cx="596.0" cy="141.2" r="1.9" fill="#ed8864" fill-opacity="0.26"/>
<circle cx="601.0" cy="141.2" r="1.9" fill="#ed8864" fill-opacity="0.26"/>
<circle cx="591.5" cy="157.9" r="1.9" fill="#ed8864" fill-opacity="0.26"/>
<circle cx="594.0" cy="157.9" r="1.9" fill="#ed8864" fill-opacity="0.26"/>
<circle cx="596.0" cy="157.9" r="1.9" fill="#ed8864" fill-opacity="0.26"/>
<circle cx="599.0" cy="157.9" r="1.9" fill="#ed8864" fill-opacity="0.26"/>
<circle cx="601.0" cy="157.9" r="1.9" fill="#ed8864" fill-opacity="0.26"/>
<circle cx="602.5" cy="157.9" r="1.9" fill="#ed8864" fill-opacity="0.26"/>
<circle cx="628.6" cy="141.2" r="1.9" fill="#e09d85" fill-opacity="0.26"/>
<circle cx="619.5" cy="157.9" r="1.9" fill="#e09d85" fill-opacity="0.26"/>
<circle cx="622.0" cy="157.9" r="1.9" fill="#e09d85" fill-opacity="0.26"/>
<circle cx="624.0" cy="157.9" r="1.9" fill="#e09d85" fill-opacity="0.26"/>
<circle cx="627.0" cy="157.9" r="1.9" fill="#e09d85" fill-opacity="0.26"/>
<circle cx="629.5" cy="157.9" r="1.9" fill="#e09d85" fill-opacity="0.26"/>
<circle cx="649.6" cy="124.4" r="1.9" fill="#ef835d" fill-opacity="0.26"/>
<circle cx="647.0" cy="157.9" r="1.9" fill="#ef835d" fill-opacity="0.26"/>
<circle cx="649.0" cy="157.9" r="1.9" fill="#ef835d" fill-opacity="0.26"/>
<circle cx="651.5" cy="157.9" r="1.9" fill="#ef835d" fill-opacity="0.26"/>
<circle cx="654.0" cy="157.9" r="1.9" fill="#ef835d" fill-opacity="0.26"/>
<circle cx="656.0" cy="157.9" r="1.9" fill="#ef835d" fill-opacity="0.26"/>
<circle cx="658.0" cy="157.9" r="1.9" fill="#ef835d" fill-opacity="0.26"/>
<path d="M541.2 153.3V161.0M538.3 153.3h5.8M538.3 161.0h5.8" stroke="#bebebe" stroke-width="1.3" fill="none"/>
<circle cx="541.2" cy="156.8" r="3.95" fill="#bebebe"/>
<path d="M568.9 73.5V106.1M566.0 73.5h5.8M566.0 106.1h5.8" stroke="#ff4500" stroke-width="1.3" fill="none"/>
<circle cx="568.9" cy="89.7" r="3.95" fill="#ff4500"/>
<path d="M597.0 149.0V161.7M594.1 149.0h5.8M594.1 161.7h5.8" stroke="#ed8864" stroke-width="1.3" fill="none"/>
<circle cx="597.0" cy="155.4" r="3.95" fill="#ed8864"/>
<path d="M625.0 149.0V161.7M622.1 149.0h5.8M622.1 161.7h5.8" stroke="#e09d85" stroke-width="1.3" fill="none"/>
<circle cx="625.0" cy="155.4" r="3.95" fill="#e09d85"/>
<path d="M652.5 143.8V163.2M649.6 143.8h5.8M649.6 163.2h5.8" stroke="#ef835d" stroke-width="1.3" fill="none"/>
<circle cx="652.5" cy="153.3" r="3.95" fill="#ef835d"/>
<text x="541.2" y="150.1" font-size="8.4" text-anchor="middle" fill="#fff" stroke="#fff" stroke-width="2.1" stroke-linejoin="round">A</text>
<text x="541.2" y="150.1" font-size="8.4" text-anchor="middle" fill="#000" stroke="#000" stroke-width="0.07">A</text>
<text x="568.9" y="71.5" font-size="8.4" text-anchor="middle" fill="#fff" stroke="#fff" stroke-width="2.1" stroke-linejoin="round">B</text>
<text x="568.9" y="71.5" font-size="8.4" text-anchor="middle" fill="#000" stroke="#000" stroke-width="0.07">B</text>
<path d="M573.35 94.50h4.3M575.50 92.35v4.3" stroke="#111" stroke-width="0.8" fill="none"/>
<text x="597.0" y="148.4" font-size="8.4" text-anchor="middle" fill="#fff" stroke="#fff" stroke-width="2.1" stroke-linejoin="round">A</text>
<text x="597.0" y="148.4" font-size="8.4" text-anchor="middle" fill="#000" stroke="#000" stroke-width="0.07">A</text>
<path d="M603.30 147.40L603.86 148.88L605.44 148.95L604.20 149.94L604.62 151.47L603.30 150.60L601.98 151.47L602.40 149.94L601.16 148.95L602.74 148.88Z" fill="#000"/>
<text x="625.0" y="148.4" font-size="8.4" text-anchor="middle" fill="#fff" stroke="#fff" stroke-width="2.1" stroke-linejoin="round">A</text>
<text x="625.0" y="148.4" font-size="8.4" text-anchor="middle" fill="#000" stroke="#000" stroke-width="0.07">A</text>
<path d="M631.10 147.40L631.66 148.88L633.24 148.95L632.00 149.94L632.42 151.47L631.10 150.60L629.78 151.47L630.20 149.94L628.96 148.95L630.54 148.88Z" fill="#000"/>
<text x="652.5" y="142.1" font-size="8.4" text-anchor="middle" fill="#fff" stroke="#fff" stroke-width="2.1" stroke-linejoin="round">C</text>
<text x="652.5" y="142.1" font-size="8.4" text-anchor="middle" fill="#000" stroke="#000" stroke-width="0.07">C</text>
<path d="M659.10 145.30L659.66 146.78L661.24 146.85L660.00 147.84L660.42 149.37L659.10 148.50L657.78 149.37L658.20 147.84L656.96 146.85L658.54 146.78Z" fill="#000"/>
<rect x="524.60" y="56.20" width="144.85" height="119.45" fill="none" stroke="#4a4a4a" stroke-width="0.98"/>
<rect x="524.6" y="181.3" width="144.8" height="119.6" fill="#fff" stroke="none"/>
<circle cx="537.2" cy="283.1" r="1.9" fill="#bebebe" fill-opacity="0.26"/>
<circle cx="539.2" cy="283.1" r="1.9" fill="#bebebe" fill-opacity="0.26"/>
<circle cx="541.2" cy="283.1" r="1.9" fill="#bebebe" fill-opacity="0.26"/>
<circle cx="543.2" cy="283.1" r="1.9" fill="#bebebe" fill-opacity="0.26"/>
<circle cx="546.0" cy="283.1" r="1.9" fill="#bebebe" fill-opacity="0.26"/>
<circle cx="542.2" cy="283.1" r="1.9" fill="#bebebe" fill-opacity="0.26"/>
<circle cx="540.2" cy="283.1" r="1.9" fill="#bebebe" fill-opacity="0.26"/>
<circle cx="563.9" cy="199.2" r="1.9" fill="#ff4500" fill-opacity="0.26"/>
<circle cx="565.9" cy="199.2" r="1.9" fill="#ff4500" fill-opacity="0.26"/>
<circle cx="567.9" cy="199.2" r="1.9" fill="#ff4500" fill-opacity="0.26"/>
<circle cx="569.9" cy="199.2" r="1.9" fill="#ff4500" fill-opacity="0.26"/>
<circle cx="571.9" cy="199.2" r="1.9" fill="#ff4500" fill-opacity="0.26"/>
<circle cx="574.4" cy="199.2" r="1.9" fill="#ff4500" fill-opacity="0.26"/>
<circle cx="568.9" cy="199.2" r="1.9" fill="#ff4500" fill-opacity="0.26"/>
<circle cx="570.9" cy="199.2" r="1.9" fill="#ff4500" fill-opacity="0.26"/>
<circle cx="572.9" cy="216.0" r="1.9" fill="#ff4500" fill-opacity="0.26"/>
<circle cx="597.6" cy="232.8" r="1.9" fill="#ed8864" fill-opacity="0.26"/>
<circle cx="599.7" cy="249.5" r="1.9" fill="#ed8864" fill-opacity="0.26"/>
<circle cx="591.5" cy="283.1" r="1.9" fill="#ed8864" fill-opacity="0.26"/>
<circle cx="593.5" cy="283.1" r="1.9" fill="#ed8864" fill-opacity="0.26"/>
<circle cx="595.5" cy="283.1" r="1.9" fill="#ed8864" fill-opacity="0.26"/>
<circle cx="598.0" cy="283.1" r="1.9" fill="#ed8864" fill-opacity="0.26"/>
<circle cx="600.0" cy="283.1" r="1.9" fill="#ed8864" fill-opacity="0.26"/>
<circle cx="601.5" cy="283.1" r="1.9" fill="#ed8864" fill-opacity="0.26"/>
<circle cx="622.3" cy="232.8" r="1.9" fill="#e09d85" fill-opacity="0.26"/>
<circle cx="627.0" cy="232.8" r="1.9" fill="#e09d85" fill-opacity="0.26"/>
<circle cx="628.0" cy="266.3" r="1.9" fill="#e09d85" fill-opacity="0.26"/>
<circle cx="620.8" cy="249.5" r="1.9" fill="#e09d85" fill-opacity="0.26"/>
<circle cx="624.0" cy="249.5" r="1.9" fill="#e09d85" fill-opacity="0.26"/>
<circle cx="630.3" cy="249.5" r="1.9" fill="#e09d85" fill-opacity="0.26"/>
<circle cx="619.5" cy="283.1" r="1.9" fill="#e09d85" fill-opacity="0.26"/>
<circle cx="622.0" cy="283.1" r="1.9" fill="#e09d85" fill-opacity="0.26"/>
<circle cx="624.5" cy="283.1" r="1.9" fill="#e09d85" fill-opacity="0.26"/>
<circle cx="627.0" cy="283.1" r="1.9" fill="#e09d85" fill-opacity="0.26"/>
<circle cx="649.2" cy="232.8" r="1.9" fill="#ef835d" fill-opacity="0.26"/>
<circle cx="648.3" cy="249.5" r="1.9" fill="#ef835d" fill-opacity="0.26"/>
<circle cx="651.5" cy="249.5" r="1.9" fill="#ef835d" fill-opacity="0.26"/>
<circle cx="654.5" cy="249.5" r="1.9" fill="#ef835d" fill-opacity="0.26"/>
<circle cx="657.8" cy="249.5" r="1.9" fill="#ef835d" fill-opacity="0.26"/>
<circle cx="648.1" cy="283.1" r="1.9" fill="#ef835d" fill-opacity="0.26"/>
<circle cx="650.5" cy="283.1" r="1.9" fill="#ef835d" fill-opacity="0.26"/>
<circle cx="652.5" cy="283.1" r="1.9" fill="#ef835d" fill-opacity="0.26"/>
<circle cx="655.0" cy="283.1" r="1.9" fill="#ef835d" fill-opacity="0.26"/>
<circle cx="657.8" cy="283.1" r="1.9" fill="#ef835d" fill-opacity="0.26"/>
<circle cx="541.2" cy="283.1" r="3.95" fill="#bebebe"/>
<path d="M568.9 195.7V204.6M566.0 195.7h5.8M566.0 204.6h5.8" stroke="#ff4500" stroke-width="1.3" fill="none"/>
<circle cx="568.9" cy="200.0" r="3.95" fill="#ff4500"/>
<path d="M597.0 257.2V290.3M594.1 257.2h5.8M594.1 290.3h5.8" stroke="#ed8864" stroke-width="1.3" fill="none"/>
<circle cx="597.0" cy="274.0" r="3.95" fill="#ed8864"/>
<path d="M625.0 242.9V280.4M622.1 242.9h5.8M622.1 280.4h5.8" stroke="#e09d85" stroke-width="1.3" fill="none"/>
<circle cx="625.0" cy="261.8" r="3.95" fill="#e09d85"/>
<path d="M652.5 253.0V288.2M649.6 253.0h5.8M649.6 288.2h5.8" stroke="#ef835d" stroke-width="1.3" fill="none"/>
<circle cx="652.5" cy="270.9" r="3.95" fill="#ef835d"/>
<text x="541.2" y="278.0" font-size="8.4" text-anchor="middle" fill="#fff" stroke="#fff" stroke-width="2.1" stroke-linejoin="round">A</text>
<text x="541.2" y="278.0" font-size="8.4" text-anchor="middle" fill="#000" stroke="#000" stroke-width="0.07">A</text>
<text x="568.9" y="193.4" font-size="8.4" text-anchor="middle" fill="#fff" stroke="#fff" stroke-width="2.1" stroke-linejoin="round">B</text>
<text x="568.9" y="193.4" font-size="8.4" text-anchor="middle" fill="#000" stroke="#000" stroke-width="0.07">B</text>
<text x="597.0" y="256.5" font-size="8.4" text-anchor="middle" fill="#fff" stroke="#fff" stroke-width="2.1" stroke-linejoin="round">AB</text>
<text x="597.0" y="256.5" font-size="8.4" text-anchor="middle" fill="#000" stroke="#000" stroke-width="0.07">AB</text>
<path d="M603.30 265.00L603.86 266.48L605.44 266.55L604.20 267.54L604.62 269.07L603.30 268.20L601.98 269.07L602.40 267.54L601.16 266.55L602.74 266.48Z" fill="#000"/>
<text x="625.0" y="241.8" font-size="8.4" text-anchor="middle" fill="#fff" stroke="#fff" stroke-width="2.1" stroke-linejoin="round">AB</text>
<text x="625.0" y="241.8" font-size="8.4" text-anchor="middle" fill="#000" stroke="#000" stroke-width="0.07">AB</text>
<path d="M631.10 253.00L631.66 254.48L633.24 254.55L632.00 255.54L632.42 257.07L631.10 256.20L629.78 257.07L630.20 255.54L628.96 254.55L630.54 254.48Z" fill="#000"/>
<path d="M629.35 267.50h4.3M631.50 265.35v4.3" stroke="#111" stroke-width="0.8" fill="none"/>
<text x="652.5" y="251.7" font-size="8.4" text-anchor="middle" fill="#fff" stroke="#fff" stroke-width="2.1" stroke-linejoin="round">AB</text>
<text x="652.5" y="251.7" font-size="8.4" text-anchor="middle" fill="#000" stroke="#000" stroke-width="0.07">AB</text>
<path d="M658.80 262.10L659.36 263.58L660.94 263.65L659.70 264.64L660.12 266.17L658.80 265.30L657.48 266.17L657.90 264.64L656.66 263.65L658.24 263.58Z" fill="#000"/>
<rect x="524.60" y="181.30" width="144.85" height="119.60" fill="none" stroke="#4a4a4a" stroke-width="0.98"/>
<path d="M541.2 300.9v2.6" stroke="#4a4a4a" stroke-width="0.9"/>
<text x="541.2" y="311.95" font-size="7.9" text-anchor="middle" fill="#4d4d4d" stroke="#4d4d4d" stroke-width="0.2">May</text>
<path d="M568.9 300.9v2.6" stroke="#4a4a4a" stroke-width="0.9"/>
<text x="568.9" y="311.95" font-size="7.9" text-anchor="middle" fill="#4d4d4d" stroke="#4d4d4d" stroke-width="0.2">June</text>
<path d="M597.0 300.9v2.6" stroke="#4a4a4a" stroke-width="0.9"/>
<text x="597.0" y="311.95" font-size="7.9" text-anchor="middle" fill="#4d4d4d" stroke="#4d4d4d" stroke-width="0.2">July</text>
<path d="M625.0 300.9v2.6" stroke="#4a4a4a" stroke-width="0.9"/>
<text x="625.0" y="311.95" font-size="7.9" text-anchor="middle" fill="#4d4d4d" stroke="#4d4d4d" stroke-width="0.2">Aug</text>
<path d="M652.5 300.9v2.6" stroke="#4a4a4a" stroke-width="0.9"/>
<text x="652.5" y="311.95" font-size="7.9" text-anchor="middle" fill="#4d4d4d" stroke="#4d4d4d" stroke-width="0.2">Sept</text>
<path d="M375.4 157.9h-2.4" stroke="#4a4a4a" stroke-width="0.9"/>
<text x="370.3" y="160.8" font-size="7.8" text-anchor="end" fill="#4d4d4d" stroke="#4d4d4d" stroke-width="0.2">0.0</text>
<path d="M375.4 141.2h-2.4" stroke="#4a4a4a" stroke-width="0.9"/>
<text x="370.3" y="144.0" font-size="7.8" text-anchor="end" fill="#4d4d4d" stroke="#4d4d4d" stroke-width="0.2">0.2</text>
<path d="M375.4 124.4h-2.4" stroke="#4a4a4a" stroke-width="0.9"/>
<text x="370.3" y="127.2" font-size="7.8" text-anchor="end" fill="#4d4d4d" stroke="#4d4d4d" stroke-width="0.2">0.4</text>
<path d="M375.4 107.6h-2.4" stroke="#4a4a4a" stroke-width="0.9"/>
<text x="370.3" y="110.4" font-size="7.8" text-anchor="end" fill="#4d4d4d" stroke="#4d4d4d" stroke-width="0.2">0.6</text>
<path d="M375.4 90.8h-2.4" stroke="#4a4a4a" stroke-width="0.9"/>
<text x="370.3" y="93.7" font-size="7.8" text-anchor="end" fill="#4d4d4d" stroke="#4d4d4d" stroke-width="0.2">0.8</text>
<path d="M375.4 74.0h-2.4" stroke="#4a4a4a" stroke-width="0.9"/>
<text x="370.3" y="76.9" font-size="7.8" text-anchor="end" fill="#4d4d4d" stroke="#4d4d4d" stroke-width="0.2">1.0</text>
<path d="M375.4 283.1h-2.4" stroke="#4a4a4a" stroke-width="0.9"/>
<text x="370.3" y="286.0" font-size="7.8" text-anchor="end" fill="#4d4d4d" stroke="#4d4d4d" stroke-width="0.2">0.0</text>
<path d="M375.4 266.3h-2.4" stroke="#4a4a4a" stroke-width="0.9"/>
<text x="370.3" y="269.2" font-size="7.8" text-anchor="end" fill="#4d4d4d" stroke="#4d4d4d" stroke-width="0.2">0.2</text>
<path d="M375.4 249.5h-2.4" stroke="#4a4a4a" stroke-width="0.9"/>
<text x="370.3" y="252.4" font-size="7.8" text-anchor="end" fill="#4d4d4d" stroke="#4d4d4d" stroke-width="0.2">0.4</text>
<path d="M375.4 232.8h-2.4" stroke="#4a4a4a" stroke-width="0.9"/>
<text x="370.3" y="235.6" font-size="7.8" text-anchor="end" fill="#4d4d4d" stroke="#4d4d4d" stroke-width="0.2">0.6</text>
<path d="M375.4 216.0h-2.4" stroke="#4a4a4a" stroke-width="0.9"/>
<text x="370.3" y="218.8" font-size="7.8" text-anchor="end" fill="#4d4d4d" stroke="#4d4d4d" stroke-width="0.2">0.8</text>
<path d="M375.4 199.2h-2.4" stroke="#4a4a4a" stroke-width="0.9"/>
<text x="370.3" y="202.1" font-size="7.8" text-anchor="end" fill="#4d4d4d" stroke="#4d4d4d" stroke-width="0.2">1.0</text>
<text transform="translate(355.1 178.9) rotate(-90)" font-size="9.6" text-anchor="middle" fill="#000" stroke="#000" stroke-width="0.12">Proportion dead</text>
<text x="522.4" y="322.3" font-size="9.7" text-anchor="middle" fill="#000" stroke="#000" stroke-width="0.12">Trial</text>
<rect x="514.2" y="-3" width="79.8" height="18.9" fill="url(#lg)"/>
<path d="M514.9 -3V0.8M514.9 12.1V15.9" stroke="#fff" stroke-width="0.85"/>
<path d="M535.7 -3V0.8M535.7 12.1V15.9" stroke="#fff" stroke-width="0.85"/>
<path d="M556.1 -3V0.8M556.1 12.1V15.9" stroke="#fff" stroke-width="0.85"/>
<path d="M576.6 -3V0.8M576.6 12.1V15.9" stroke="#fff" stroke-width="0.85"/>
<text x="514.9" y="25.0" font-size="5.7" text-anchor="middle" fill="#000" stroke="#000" stroke-width="0.12">25</text>
<text x="535.7" y="25.0" font-size="5.7" text-anchor="middle" fill="#000" stroke="#000" stroke-width="0.12">27</text>
<text x="556.1" y="25.0" font-size="5.7" text-anchor="middle" fill="#000" stroke="#000" stroke-width="0.12">29</text>
<text x="576.6" y="25.0" font-size="5.7" text-anchor="middle" fill="#000" stroke="#000" stroke-width="0.12">31</text>
<text x="450.8" y="14.6" font-size="6.9" fill="#000" stroke="#000" stroke-width="0.1">Mean air temp (°C)</text>
<g stroke-linejoin="round" stroke-linecap="round">
<path d="M152.4 97.6 C154.5 96.6 159.5 96.9 161.9 98.3 C162.3 104 162.2 112 162.6 118 C162.8 122 163.4 126 164.2 129.5 L146 126.5 C147 121 148.3 114 150 107 C150.8 103.5 151.6 100 152.4 97.6Z" fill="url(#siph)" stroke="#6b4f28" stroke-width="0.4"/>
<path d="M146.6 124.3 C143 130 138 142 135.6 154 C133.8 164 136 173 142 178 C148 182.6 157 183.6 164 180.2 C168.5 178 172 174.5 171.8 170.5 C171.6 167.5 169 165.8 169.2 163.3 C169.5 160.5 174.2 158.5 175 154.8 C175.7 151.5 174.5 147 172.5 142 C170 136 167 131 163.3 127.4 C158 122.6 151 121.4 146.6 124.3Z" fill="#f6f9fb" stroke="#1e1e1e" stroke-width="0.6"/>
<g fill="none" stroke="#111" stroke-width="0.45">
<path d="M149.5 125.5 C145 134 140.2 148 139 158 C138 168 141 175.4 148.5 179.6"/>
<path d="M154 126.5 C148.6 136 144 150 143.4 160 C143 169 146.6 175.4 154 178.6"/>
<path d="M157.6 129.5 C152.6 138 148.4 152 148.3 161 C148.3 169 151.8 174.4 158.4 176.8"/>
<path d="M160.5 132.5 C158 137 156 142 155 147"/>
<path d="M153.4 158 C153.8 166 157.6 172.2 164.4 174.8"/>
<path d="M164.1 140.1 C161.5 145 160.3 152 160.9 157 C161.5 162.5 164 167 167.5 169.3 C168.6 170 169.6 170.2 170.4 170"/>
<path d="M157 176 C161 178.6 166.4 177 170.4 172.6"/>
</g></g>
<g stroke-linejoin="round" stroke-linecap="round">
<path d="M505 104 C512 103 521 97.5 525.4 90 C523.5 98.5 514 106 505.5 108.2Z" fill="#f4f1ec" stroke="#1e1e1e" stroke-width="0.45"/>
<path d="M505.6 77.6 C513 78.6 521 82.6 525.4 88.6 C522.6 95 516 100.6 509.6 103.2 C511.6 95 510.6 85 505.6 77.6Z" fill="url(#foot)" stroke="#4a3018" stroke-width="0.4"/>
<path d="M448.2 83 C448.6 78.6 450.6 75.6 453.8 73.4 C459.6 69.4 466.8 67.4 474 67 C480 66.6 486.2 67.6 491.2 69.4 C496 71 500 72.8 503 75.4 C507.6 79.4 510.2 83.4 511 88 C511.8 92.6 511.8 96.6 510.8 100 C510 102.8 508.6 104.8 507 106 C502 109.4 496 110.8 491 111.2 C486 111.6 481.6 111.6 477.4 111 C471.6 110 466.6 106.8 462 102.6 C457.6 98.6 454 95 451.8 92.2 C449.6 89.4 448 86.4 448.2 83Z" fill="#fefefe" stroke="#1e1e1e" stroke-width="0.6"/>
<clipPath id="c2"><path d="M448.2 83 C448.6 78.6 450.6 75.6 453.8 73.4 C459.6 69.4 466.8 67.4 474 67 C480 66.6 486.2 67.6 491.2 69.4 C496 71 500 72.8 503 75.4 C507.6 79.4 510.2 83.4 511 88 C511.8 92.6 511.8 96.6 510.8 100 C510 102.8 508.6 104.8 507 106 C502 109.4 496 110.8 491 111.2 C486 111.6 481.6 111.6 477.4 111 C471.6 110 466.6 106.8 462 102.6 C457.6 98.6 454 95 451.8 92.2 C449.6 89.4 448 86.4 448.2 83Z"/></clipPath>
<g fill="none" stroke="#111" stroke-width="0.5" clip-path="url(#c2)">
<path transform="translate(471.00 113.00) scale(0.920) translate(-471.00 -113.00)" d="M448.2 83 C448.6 78.6 450.6 75.6 453.8 73.4 C459.6 69.4 466.8 67.4 474 67 C480 66.6 486.2 67.6 491.2 69.4 C496 71 500 72.8 503 75.4 C507.6 79.4 510.2 83.4 511 88 C511.8 92.6 511.8 96.6 510.8 100 C510 102.8 508.6 104.8 507 106 C502 109.4 496 110.8 491 111.2 C486 111.6 481.6 111.6 477.4 111 C471.6 110 466.6 106.8 462 102.6 C457.6 98.6 454 95 451.8 92.2 C449.6 89.4 448 86.4 448.2 83Z" stroke-width="0.54" stroke-dasharray="60 5 200"/>
<path transform="translate(471.00 113.00) scale(0.800) translate(-471.00 -113.00)" d="M448.2 83 C448.6 78.6 450.6 75.6 453.8 73.4 C459.6 69.4 466.8 67.4 474 67 C480 66.6 486.2 67.6 491.2 69.4 C496 71 500 72.8 503 75.4 C507.6 79.4 510.2 83.4 511 88 C511.8 92.6 511.8 96.6 510.8 100 C510 102.8 508.6 104.8 507 106 C502 109.4 496 110.8 491 111.2 C486 111.6 481.6 111.6 477.4 111 C471.6 110 466.6 106.8 462 102.6 C457.6 98.6 454 95 451.8 92.2 C449.6 89.4 448 86.4 448.2 83Z" stroke-width="0.62" stroke-dasharray="30 3 40 200"/>
<path transform="translate(471.00 113.00) scale(0.680) translate(-471.00 -113.00)" d="M448.2 83 C448.6 78.6 450.6 75.6 453.8 73.4 C459.6 69.4 466.8 67.4 474 67 C480 66.6 486.2 67.6 491.2 69.4 C496 71 500 72.8 503 75.4 C507.6 79.4 510.2 83.4 511 88 C511.8 92.6 511.8 96.6 510.8 100 C510 102.8 508.6 104.8 507 106 C502 109.4 496 110.8 491 111.2 C486 111.6 481.6 111.6 477.4 111 C471.6 110 466.6 106.8 462 102.6 C457.6 98.6 454 95 451.8 92.2 C449.6 89.4 448 86.4 448.2 83Z" stroke-width="0.74"/>
<path transform="translate(471.00 113.00) scale(0.560) translate(-471.00 -113.00)" d="M448.2 83 C448.6 78.6 450.6 75.6 453.8 73.4 C459.6 69.4 466.8 67.4 474 67 C480 66.6 486.2 67.6 491.2 69.4 C496 71 500 72.8 503 75.4 C507.6 79.4 510.2 83.4 511 88 C511.8 92.6 511.8 96.6 510.8 100 C510 102.8 508.6 104.8 507 106 C502 109.4 496 110.8 491 111.2 C486 111.6 481.6 111.6 477.4 111 C471.6 110 466.6 106.8 462 102.6 C457.6 98.6 454 95 451.8 92.2 C449.6 89.4 448 86.4 448.2 83Z" stroke-width="0.89" stroke-dasharray="50 4 200"/>
<path transform="translate(471.00 113.00) scale(0.450) translate(-471.00 -113.00)" d="M448.2 83 C448.6 78.6 450.6 75.6 453.8 73.4 C459.6 69.4 466.8 67.4 474 67 C480 66.6 486.2 67.6 491.2 69.4 C496 71 500 72.8 503 75.4 C507.6 79.4 510.2 83.4 511 88 C511.8 92.6 511.8 96.6 510.8 100 C510 102.8 508.6 104.8 507 106 C502 109.4 496 110.8 491 111.2 C486 111.6 481.6 111.6 477.4 111 C471.6 110 466.6 106.8 462 102.6 C457.6 98.6 454 95 451.8 92.2 C449.6 89.4 448 86.4 448.2 83Z" stroke-width="1.11"/>
<path transform="translate(471.00 113.00) scale(0.340) translate(-471.00 -113.00)" d="M448.2 83 C448.6 78.6 450.6 75.6 453.8 73.4 C459.6 69.4 466.8 67.4 474 67 C480 66.6 486.2 67.6 491.2 69.4 C496 71 500 72.8 503 75.4 C507.6 79.4 510.2 83.4 511 88 C511.8 92.6 511.8 96.6 510.8 100 C510 102.8 508.6 104.8 507 106 C502 109.4 496 110.8 491 111.2 C486 111.6 481.6 111.6 477.4 111 C471.6 110 466.6 106.8 462 102.6 C457.6 98.6 454 95 451.8 92.2 C449.6 89.4 448 86.4 448.2 83Z" stroke-width="1.47" stroke-dasharray="25 3 200"/>
<path transform="translate(471.00 113.00) scale(0.230) translate(-471.00 -113.00)" d="M448.2 83 C448.6 78.6 450.6 75.6 453.8 73.4 C459.6 69.4 466.8 67.4 474 67 C480 66.6 486.2 67.6 491.2 69.4 C496 71 500 72.8 503 75.4 C507.6 79.4 510.2 83.4 511 88 C511.8 92.6 511.8 96.6 510.8 100 C510 102.8 508.6 104.8 507 106 C502 109.4 496 110.8 491 111.2 C486 111.6 481.6 111.6 477.4 111 C471.6 110 466.6 106.8 462 102.6 C457.6 98.6 454 95 451.8 92.2 C449.6 89.4 448 86.4 448.2 83Z" stroke-width="2.17"/>
</g></g>
</svg>
</body></html>
